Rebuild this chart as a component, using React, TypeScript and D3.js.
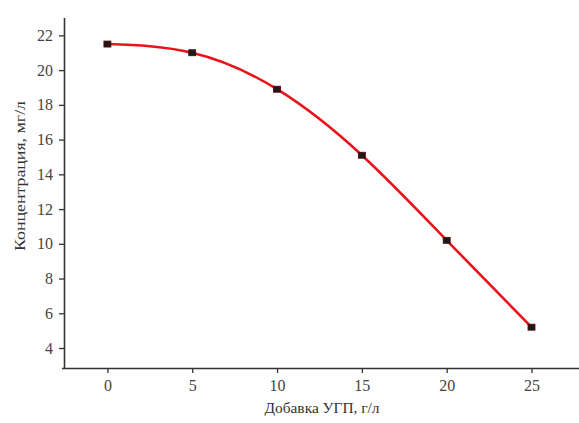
import React, { useRef, useEffect } from 'react';
import * as d3 from 'd3';

// values
const additive = [0, 5, 10, 15, 20, 25];
const concentration = [21.5, 21.0, 18.9, 15.1, 10.2, 5.2];
const xTicks = [0, 5, 10, 15, 20, 25];
const yTicks = [4, 6, 8, 10, 12, 14, 16, 18, 20, 22];

const W = 579;
const H = 423;
const left = 65;
const top = 18;
const bottom = 368;
const right = 579;

function App() {
  const svgRef = useRef<SVGSVGElement>(null);

  useEffect(() => {
    const svg = d3.select(svgRef.current);
    svg.selectAll('*').remove();

    const x = d3.scaleLinear().domain([-2.5, 27.8]).range([left, right]);
    const y = d3.scaleLinear().domain([2.85, 23]).range([bottom, top]);
    const font = '"Liberation Serif", "Times New Roman", serif';
    const axisColor = '#333';

    // x axis
    const gx = svg.append('g').attr('transform', `translate(0,${bottom})`);
    gx.call(
      d3.axisBottom(x).tickValues([-2.5, 2.5, 7.5, 12.5, 17.5, 22.5, 27.5]).tickSize(3).tickFormat(() => '')
    );
    gx.call(
      d3.axisBottom(x).tickValues(xTicks).tickSize(5).tickPadding(7).tickFormat(d3.format('d'))
    );
    gx.select('.domain').attr('d', `M${left - 3},0.5H${right}`);

    // y axis
    const gy = svg.append('g').attr('transform', `translate(${left},0)`);
    gy.call(
      d3.axisLeft(y).tickValues([3, 5, 7, 9, 11, 13, 15, 17, 19, 21, 23]).tickSize(3).tickFormat(() => '')
    );
    gy.call(
      d3.axisLeft(y).tickValues(yTicks).tickSize(6).tickPadding(6).tickFormat(d3.format('d'))
    );
    gy.select('.domain').attr('d', `M-0.5,${top}V${bottom}`);

    svg.selectAll('.domain').attr('stroke', axisColor).attr('stroke-width', 1.6);
    svg.selectAll('.tick line').attr('stroke', axisColor).attr('stroke-width', 1.3);
    svg.selectAll('g').attr('font-size', null).attr('font-family', null);
    svg
      .selectAll('.tick text')
      .attr('fill', '#444')
      .style('font-family', font)
      .style('font-size', '16px');

    const pts: [number, number][] = additive.map((a, i) => [a, concentration[i]]);

    const line = d3
      .line<[number, number]>()
      .x((d) => x(d[0]))
      .y((d) => y(d[1]))
      .curve(d3.curveNatural);

    svg
      .append('path')
      .datum(pts)
      .attr('d', line)
      .attr('fill', 'none')
      .attr('stroke', '#e8141b')
      .attr('stroke-width', 2.6);

    svg
      .selectAll('.pt')
      .data(pts)
      .join('rect')
      .attr('class', 'pt')
      .attr('x', (d) => x(d[0]) - 3.5)
      .attr('y', (d) => y(d[1]) - 3)
      .attr('width', 7)
      .attr('height', 6)
      .attr('fill', '#1a1a1a')
      .attr('stroke', '#5a0000')
      .attr('stroke-width', 0.8);

    // axis titles
    svg
      .append('text')
      .attr('x', 322)
      .attr('y', 413)
      .attr('text-anchor', 'middle')
      .attr('textLength', 115)
      .attr('lengthAdjust', 'spacingAndGlyphs')
      .style('font-family', font)
      .style('font-size', '15px')
      .attr('fill', '#333')
      .text('Добавка УГП, г/л');

    svg
      .append('text')
      .attr('transform', `translate(25,176) rotate(-90)`)
      .attr('text-anchor', 'middle')
      .attr('textLength', 150)
      .attr('lengthAdjust', 'spacingAndGlyphs')
      .style('font-family', font)
      .style('font-size', '15px')
      .attr('fill', '#333')
      .text('Концентрация, мг/л');
  }, []);

  return (
    <svg
      ref={svgRef}
      width={W}
      height={H}
      style={{ position: 'absolute', left: 0, top: 0, background: '#fff' }}
    />
  );
}

export default App;
